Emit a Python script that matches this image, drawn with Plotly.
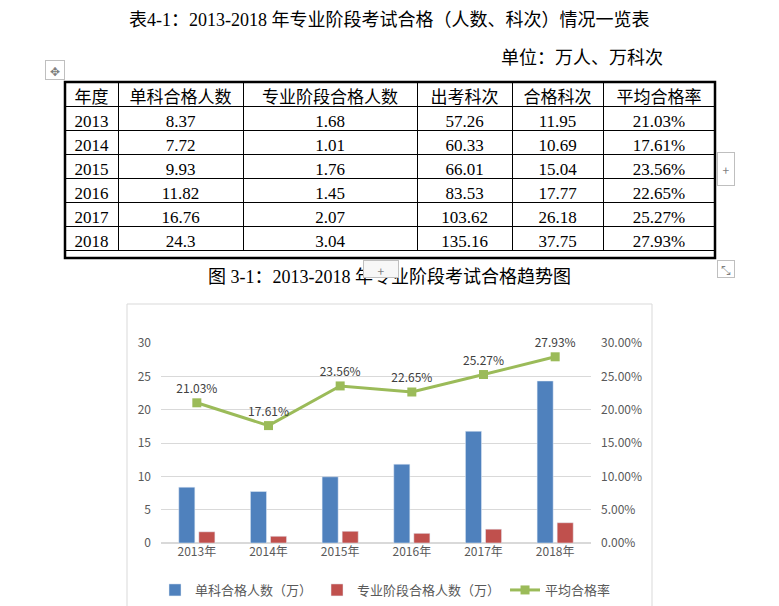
import plotly.graph_objects as go

W, H = 779, 606
OFF = 8  # the page body adds an 8px margin

# table data (万人、万科次)
years = ["2013", "2014", "2015", "2016", "2017", "2018"]
single_pass = ["8.37", "7.72", "9.93", "11.82", "16.76", "24.3"]
stage_pass = ["1.68", "1.01", "1.76", "1.45", "2.07", "3.04"]
sittings = ["57.26", "60.33", "66.01", "83.53", "103.62", "135.16"]
subject_pass = ["11.95", "10.69", "15.04", "17.77", "26.18", "37.75"]
pass_rate = ["21.03%", "17.61%", "23.56%", "22.65%", "25.27%", "27.93%"]
headers = ["年度", "单科合格人数", "专业阶段合格人数", "出考科次", "合格科次", "平均合格率"]

# chart data
categories = [y + "年" for y in years]
single_vals = [8.37, 7.72, 9.93, 11.82, 16.76, 24.3]
stage_vals = [1.68, 1.01, 1.76, 1.45, 2.07, 3.04]
rate_vals = [0.2103, 0.1761, 0.2356, 0.2265, 0.2527, 0.2793]


def px(x):
    return (x - OFF) / W


def py(y):
    return 1 - (y - OFF) / H


DOC_FONT = "Liberation Serif, Noto Sans CJK SC"
CHART_FONT = "Noto Sans CJK SC"
GREY = "#595959"

fig = go.Figure()

fig.add_trace(go.Table(
    domain=dict(x=[px(65), px(715)], y=[py(258), py(82)]),
    columnwidth=[53, 125, 174, 95, 91, 112],
    header=dict(
        values=headers,
        height=24,
        align="center",
        line=dict(color="black", width=1),
        fill_color="white",
        font=dict(family=DOC_FONT, size=17, color="black"),
    ),
    cells=dict(
        values=[years, single_pass, stage_pass, sittings, subject_pass, pass_rate],
        height=24,
        align="center",
        line=dict(color="black", width=1),
        fill_color="white",
        font=dict(family=DOC_FONT, size=17, color="black"),
    ),
))

fig.add_trace(go.Bar(
    x=categories, y=single_vals, name="单科合格人数（万）",
    marker_color="#4F81BD",
))
fig.add_trace(go.Bar(
    x=categories, y=stage_vals, name="专业阶段合格人数（万）",
    marker_color="#C0504D",
))
fig.add_trace(go.Scatter(
    x=categories, y=rate_vals, name="平均合格率", yaxis="y2",
    mode="lines+markers+text",
    line=dict(color="#9BBB59", width=3),
    marker=dict(symbol="square", size=9, color="#9BBB59"),
    text=pass_rate, textposition="top center",
    textfont=dict(family=CHART_FONT, size=12, color="#404040"),
    cliponaxis=False,
))

fig.update_layout(
    width=W, height=H,
    margin=dict(l=0, r=0, t=0, b=0, autoexpand=False),
    paper_bgcolor="white", plot_bgcolor="white",
    barmode="group", bargap=0.44, bargroupgap=0.2,
    font=dict(family=CHART_FONT, color=GREY),
    xaxis=dict(
        domain=[px(161), px(591)],
        tickfont=dict(size=12, color=GREY),
        showline=False, ticks="",
    ),
    yaxis=dict(
        domain=[py(543), py(343)],
        range=[0, 30], dtick=5,
        showgrid=True, gridcolor="#D9D9D9", gridwidth=1,
        zeroline=True, zerolinecolor="#D9D9D9",
        tickfont=dict(size=12, color=GREY),
        ticklabelstandoff=9,
    ),
    yaxis2=dict(
        overlaying="y", side="right",
        range=[0, 0.30], dtick=0.05, tickformat=".2%",
        showgrid=False, zeroline=False,
        tickfont=dict(size=12, color=GREY),
        ticklabelstandoff=9,
    ),
    legend=dict(
        orientation="h", x=px(155), xanchor="left", y=py(590), yanchor="middle",
        font=dict(size=13, color=GREY), itemwidth=30,
    ),
    showlegend=True,
)

# chart frame and thick table border
fig.add_shape(type="rect", xref="paper", yref="paper",
              x0=px(127), x1=px(652), y0=py(620), y1=py(304),
              line=dict(color="#D9D9D9", width=1), layer="below")
fig.add_shape(type="rect", xref="paper", yref="paper",
              x0=px(65), x1=px(715), y0=py(258), y1=py(82),
              line=dict(color="black", width=2.5))

# document text
fig.add_annotation(x=px(389), y=py(20), xref="paper", yref="paper",
                   xanchor="center", yanchor="middle",
                   text="表4-1：2013-2018 年专业阶段考试合格（人数、科次）情况一览表",
                   showarrow=False, font=dict(family=DOC_FONT, size=18, color="black"))
fig.add_annotation(x=px(665), y=py(58), xref="paper", yref="paper",
                   xanchor="right", yanchor="middle",
                   text="单位：万人、万科次",
                   showarrow=False, font=dict(family=DOC_FONT, size=18, color="black"))
fig.add_annotation(x=px(389), y=py(277), xref="paper", yref="paper",
                   xanchor="center", yanchor="middle",
                   text="图 3-1：2013-2018 年专业阶段考试合格趋势图",
                   showarrow=False, font=dict(family=DOC_FONT, size=18, color="black"))

# editor handles
handle = dict(xref="paper", yref="paper", xanchor="center", yanchor="middle",
              showarrow=False, bgcolor="white", bordercolor="#BFBFBF",
              font=dict(size=12, color="#7F7F7F"))
fig.add_annotation(x=px(55), y=py(70), text="✥", width=16, height=16, **handle)
fig.add_annotation(x=px(726), y=py(169), text="+", width=14, height=30, **handle)
fig.add_annotation(x=px(726), y=py(269), text="⤡", width=14, height=14, **handle)
fig.add_annotation(x=px(381), y=py(269), text="+", width=32, height=14,
                   xref="paper", yref="paper", xanchor="center", yanchor="middle",
                   showarrow=False, bgcolor="#F7F7F7", bordercolor="#BFBFBF",
                   valign="top", font=dict(size=12, color="#7F7F7F"))

fig.write_html("out.html")
